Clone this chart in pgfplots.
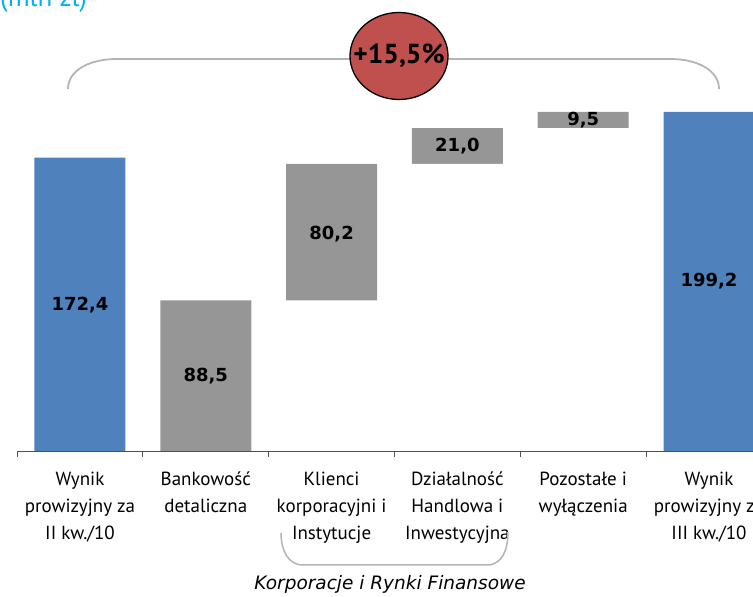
\documentclass[border=0pt]{standalone}
\usepackage{fontspec}
\setmainfont{PT Sans}
\newfontfamily\valfont{DejaVu Sans}
\usepackage{pgfplots}
\pgfplotsset{compat=1.18}
\definecolor{barblue}{HTML}{4F81BD}
\definecolor{bargray}{HTML}{969696}
\definecolor{circred}{HTML}{C0504D}
\definecolor{axisgray}{HTML}{505050}
\definecolor{bracegray}{HTML}{B4B4B4}
\definecolor{titlecyan}{HTML}{00B0F0}
\newcommand\valsize{\valfont\bfseries\fontsize{18}{20}\selectfont}
\newcommand\labsize{\fontsize{19}{27}\selectfont}
\begin{document}
\begin{tikzpicture}
\begin{axis}[
  anchor=origin, at={(0pt,0pt)},
  x=125.8pt, y=1.702pt,
  xmin=-0.5, xmax=5.7, ymin=0, ymax=199.2,
  clip=false,
  hide y axis,
  axis x line*=bottom,
  x axis line style={axisgray, line width=0.9pt},
  xtick={0,...,5},
  xticklabels={{Wynik\\prowizyjny za\\II kw./10},{Bankowość\\detaliczna},{Klienci\\korporacyjni i\\Instytucje},{Działalność\\Handlowa i\\Inwestycyjna},{Pozostałe i\\wyłączenia},{Wynik\\prowizyjny za\\III kw./10}},
  xticklabel style={align=center, anchor=north, inner sep=0pt, yshift=-20.5pt, font=\labsize, text=black},
  major tick length=0pt,
  minor xtick={-0.5,0.5,1.5,2.5,3.5,4.5,5.5},
  minor tick length=6pt,
  tick align=outside,
  tick style={axisgray, line width=0.9pt},
]
% full-height bars (blue totals, grey tops of the floating steps)
\addplot[ybar, bar width=91pt, bar shift=0pt, fill=barblue, draw=none] coordinates {(0,172.4) (5,199.2)};
\addplot[ybar, bar width=91pt, bar shift=0pt, fill=bargray, draw=none] coordinates {(1,88.5) (2,168.7) (3,189.7) (4,199.2)};
% invisible bases of the floating steps
\addplot[ybar, bar width=93pt, bar shift=0pt, fill=white, draw=none] coordinates {(2,88.5) (3,168.7) (4,189.7)};
% value labels
\addplot[only marks, mark=none, nodes near coords, point meta=explicit symbolic,
  every node near coord/.style={font=\valsize, anchor=center, text=black}]
  coordinates {(0,85.8)[172,4] (1,44.3)[88,5] (2,127.5)[80,2] (3,179.2)[21,0] (4,194.6)[9,5] (5,99.6)[199,2]};
\end{axis}
% top brace
\draw[bracegray, line width=1.8pt] (-12pt,362pt) .. controls (-12pt,381pt) and (10pt,392pt) .. (37pt,392pt) -- (590pt,392pt) .. controls (617pt,392pt) and (639pt,381pt) .. (639pt,362pt);
\draw[black, line width=1.3pt, fill=circred] (319pt,395pt) ellipse [x radius=49pt, y radius=43.5pt];
\node[font=\bfseries\fontsize{27.5}{30}\selectfont] at (319pt,395pt) {+15,5\%};
% bottom brace
\draw[bracegray, line width=1.5pt] (201pt,-82pt) .. controls (201pt,-99pt) and (208pt,-114pt) .. (223pt,-114pt) -- (407pt,-114pt) .. controls (422pt,-114pt) and (428pt,-99pt) .. (428pt,-81pt);
\node[anchor=base, font=\valfont\itshape\fontsize{18.5}{22}\selectfont] at (310pt,-139pt) {Korporacje i Rynki Finansowe};
% title (cut off at top)
\node[anchor=base west, inner sep=0pt, text=titlecyan, font=\fontsize{27}{30}\selectfont] at (-80pt,444pt) {(mln zł)};
\pgfresetboundingbox
\path[use as bounding box] (-80pt,-146pt) rectangle (673pt,451pt);
\end{tikzpicture}
\end{document}
